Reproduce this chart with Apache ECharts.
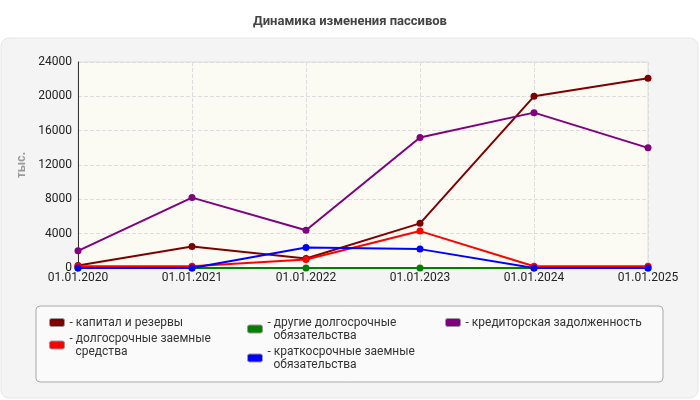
<!DOCTYPE html>
<html><head><meta charset="utf-8">
<script src="https://cdn.jsdelivr.net/npm/echarts@6/dist/echarts.min.js"></script>
<style>html,body{margin:0;padding:0;background:#fff}#c{width:700px;height:400px}</style>
</head><body><div id="c"></div>
<script>
const categories = ['01.01.2020','01.01.2021','01.01.2022','01.01.2023','01.01.2024','01.01.2025'];
const names = ['капитал и резервы','долгосрочные заемные средства','другие долгосрочные обязательства','краткосрочные заемные обязательства','кредиторская задолженность'];
const legendLabels = {
 'капитал и резервы':'- капитал и резервы',
 'долгосрочные заемные средства':'- долгосрочные заемные\n  средства',
 'другие долгосрочные обязательства':'- другие долгосрочные\n  обязательства',
 'краткосрочные заемные обязательства':'- краткосрочные заемные\n  обязательства',
 'кредиторская задолженность':'- кредиторская задолженность'
};
const kapital = [300, 2500, 1100, 5200, 20000, 22100];
const dolgo = [200, 200, 1000, 4300, 200, 200];
const drugie = [0, 0, 0, 0, 0, 0];
const kratko = [0, 0, 2400, 2200, 0, 0];
const kredit = [2000, 8200, 4400, 15200, 18100, 14000];
const colors = ['#800000','#ff0000','#008000','#0000ff','#800080'];
const yTicks = [0,4000,8000,12000,16000,20000,24000];
const values = [kapital, dolgo, drugie, kratko, kredit];
const chart = echarts.init(document.getElementById('c'));
const legendBase = {orient:'vertical', icon:'roundRect', itemWidth:15, itemHeight:8, itemGap:3,
  textStyle:{fontSize:12, color:'#333', fontFamily:'Roboto', lineHeight:13},
  formatter: n => legendLabels[n], itemStyle:{borderColor:'#999', borderWidth:1}};
chart.setOption({
  animation:false,
  color: colors,
  graphic:[
    {type:'rect', shape:{x:1,y:38,width:697,height:360,r:8}, style:{fill:'#f4f4f4',stroke:'#e6e6e6'}, z:-10},
    {type:'rect', shape:{x:36,y:306,width:627,height:76,r:4}, style:{fill:'#fafafa',stroke:'#aaa'}, z:-5}
  ],
  title:{text:'Динамика изменения пассивов', left:'center', top:10, textStyle:{fontSize:13, fontWeight:'bold', color:'#444', fontFamily:'Roboto'}},
  legend:[
    Object.assign({}, legendBase, {left:44, top:311, data:[names[0],names[1]]}),
    Object.assign({}, legendBase, {left:242, top:311, data:[names[2],names[3]]}),
    Object.assign({}, legendBase, {left:440, top:311, data:[names[4]]})
  ],
  grid:{left:78, right:52, top:62, bottom:132, show:true, backgroundColor:'#fbfbf3', borderColor:'#ddd'},
  xAxis:{type:'category', data:categories, boundaryGap:false,
    axisLine:{lineStyle:{color:'#333'}}, axisTick:{show:false},
    axisLabel:{color:'#222', fontSize:12, fontFamily:'Roboto', margin:4},
    splitLine:{show:true, lineStyle:{type:'dashed', color:'#ddd'}}},
  yAxis:{type:'value', min:0, max:24000, interval:4000, name:'тыс.', nameLocation:'middle', nameGap:50,
    nameTextStyle:{color:'#999', fontWeight:'bold', fontSize:12},
    axisLine:{show:true, lineStyle:{color:'#333'}}, axisTick:{show:false},
    axisLabel:{color:'#222', fontSize:12, fontFamily:'Roboto', margin:6, formatter:v=>yTicks.includes(v)?String(v):''},
    splitLine:{lineStyle:{type:'dashed', color:'#ddd'}}},
  series: names.map((n,i)=>({name:n, type:'line', data:values[i], symbol:'circle', symbolSize:7,
    lineStyle:{width:2, color:colors[i]}, itemStyle:{color:colors[i]}, z: i===2?1:2}))
});
</script></body></html>
